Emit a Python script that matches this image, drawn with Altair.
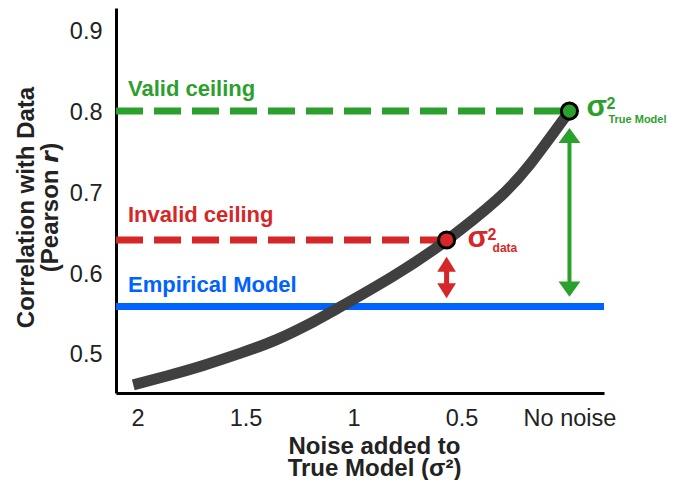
import altair as alt
import pandas as pd

# ---- data ----
curve_noise = [2.02, 1.865, 1.696, 1.526, 1.356, 1.186, 1.078, 0.82, 0.569, 0.337, 0.183, 0.0]
curve_r = [0.463, 0.474, 0.487, 0.502, 0.519, 0.541, 0.557, 0.597, 0.642, 0.692, 0.736, 0.802]

x_ticks = [2, 1.5, 1, 0.5, 0]
y_ticks = [0.5, 0.6, 0.7, 0.8, 0.9]
x_domain = [-0.16, 2.1]
y_domain = [0.4529, 0.9297]

valid_r = 0.802        # ceiling from true model (no noise)
invalid_r = 0.6424     # ceiling from data noise
empirical_r = 0.56     # empirical model
true_noise = 0.0
data_noise = 0.569

red_arrow = [0.6124, 0.5795]     # head centres (top, bottom)
green_arrow = [0.7718, 0.5815]

GREEN = "#2ca02c"
RED = "#d62728"
BLUE = "#0062ff"
GREY = "#404040"
FONT = "Liberation Sans"

xs = alt.Scale(domain=x_domain, reverse=True, nice=False, zero=False)
ys = alt.Scale(domain=y_domain, nice=False, zero=False)

x_axis = alt.Axis(
    values=x_ticks,
    labelExpr="datum.value == 0 ? 'No noise' : '' + datum.value",
    ticks=False, tickSize=0, grid=False,
    domainColor="black", domainWidth=3,
    labelFontSize=23.5, labelFont=FONT, labelColor="#222", labelPadding=13,
    title=["Noise added to", "True Model (σ²)"],
    titleFont=FONT, titleFontSize=24, titleFontWeight="bold", titleColor="#222",
    titleLineHeight=22, titleX=258, titleY=60, titleBaseline="alphabetic",
)
y_axis = alt.Axis(
    values=y_ticks, format=".1f",
    ticks=False, tickSize=0, grid=False,
    domainColor="black", domainWidth=3,
    labelFontSize=23.5, labelFont=FONT, labelColor="#222", labelPadding=14,
    title=["Correlation with Data", "(Pearson 𝙧)"],
    titleFont=FONT, titleFontSize=24, titleFontWeight="bold", titleColor="#222",
    titleLineHeight=24, titleX=-83, titleY=199, titleBaseline="alphabetic", titleAngle=270,
)


def X(field="n"):
    return alt.X(f"{field}:Q", scale=xs, axis=x_axis)


def Y(field="r"):
    return alt.Y(f"{field}:Q", scale=ys, axis=y_axis)


curve_df = pd.DataFrame({"n": curve_noise, "r": curve_r})

blue_df = pd.DataFrame({"n": [x_domain[1]], "n2": [x_domain[0]], "r": [empirical_r]})
green_dash_df = pd.DataFrame({"n": [x_domain[1]], "n2": [true_noise], "r": [valid_r]})
red_dash_df = pd.DataFrame({"n": [x_domain[1]], "n2": [data_noise], "r": [invalid_r]})

blue_line = alt.Chart(blue_df).mark_rule(color=BLUE, strokeWidth=7, strokeCap="butt").encode(
    x=X(), x2="n2:Q", y=Y())
green_dash = alt.Chart(green_dash_df).mark_rule(
    color=GREEN, strokeWidth=7, strokeDash=[27, 11], strokeCap="butt").encode(x=X(), x2="n2:Q", y=Y())
red_dash = alt.Chart(red_dash_df).mark_rule(
    color=RED, strokeWidth=7, strokeDash=[27, 11], strokeCap="butt").encode(x=X(), x2="n2:Q", y=Y())

curve = alt.Chart(curve_df).mark_line(
    color=GREY, strokeWidth=11, interpolate="natural", strokeCap="butt").encode(x=X(), y=Y())

# arrows
red_shaft_df = pd.DataFrame({"n": [data_noise], "r": [red_arrow[0]], "r2": [red_arrow[1]]})
green_shaft_df = pd.DataFrame({"n": [true_noise], "r": [green_arrow[0]], "r2": [green_arrow[1]]})
red_shaft = alt.Chart(red_shaft_df).mark_rule(color=RED, strokeWidth=5).encode(x=X(), y=Y(), y2="r2:Q")
green_shaft = alt.Chart(green_shaft_df).mark_rule(color=GREEN, strokeWidth=4).encode(x=X(), y=Y(), y2="r2:Q")

UP_R = "M0,-0.8L1,0.8L-1,0.8Z"
DN_R = "M0,0.8L1,-0.8L-1,-0.8Z"
UP_G = "M0,-0.69L1,0.69L-1,0.69Z"
DN_G = "M0,0.69L1,-0.69L-1,-0.69Z"

def head(n, r, shape, color, size):
    return alt.Chart(pd.DataFrame({"n": [n], "r": [r]})).mark_point(
        shape=shape, filled=True, color=color, size=size, opacity=1, strokeWidth=0
    ).encode(x=X(), y=Y())

heads = [
    head(data_noise, red_arrow[0], UP_R, RED, 350),
    head(data_noise, red_arrow[1], DN_R, RED, 350),
    head(true_noise, green_arrow[0], UP_G, GREEN, 480),
    head(true_noise, green_arrow[1], DN_G, GREEN, 480),
]

# points
def dot(n, r, color):
    return alt.Chart(pd.DataFrame({"n": [n], "r": [r]})).mark_circle(
        size=260, color=color, opacity=1, stroke="black", strokeWidth=3
    ).encode(x=X(), y=Y())

green_dot = dot(true_noise, valid_r, GREEN)
red_dot = dot(data_noise, invalid_r, RED)

# text annotations
def label(text, n, r, color, size, dx, dy, weight="bold"):
    return alt.Chart(pd.DataFrame({"n": [n], "r": [r], "t": [text]})).mark_text(
        align="left", baseline="alphabetic", font=FONT, fontSize=size, fontWeight=weight,
        color=color, dx=dx, dy=dy
    ).encode(x=X(), y=Y(), text="t:N")

texts = [
    label("Valid ceiling", x_domain[1], valid_r, GREEN, 22, 12, -15),
    label("Invalid ceiling", x_domain[1], invalid_r, RED, 22, 12, -18),
    label("Empirical Model", x_domain[1], empirical_r, BLUE, 22, 12, -15),
    label("σ", data_noise, invalid_r, RED, 30, 21, 7),
    label("2", data_noise, invalid_r, RED, 16, 41, 0),
    label("data", data_noise, invalid_r, RED, 12, 46, 12),
    label("σ", true_noise, valid_r, GREEN, 30, 17, 5),
    label("2", true_noise, valid_r, GREEN, 16, 37, -2),
    label("True Model", true_noise, valid_r, GREEN, 11, 39, 12),
]

chart = alt.layer(
    blue_line, green_dash, red_dash, curve, red_shaft, green_shaft, *heads,
    green_dot, red_dot, *texts
).properties(
    width=488, height=385,
    padding={"left": 108, "top": 0, "right": 63, "bottom": 87},
    autosize=alt.AutoSizeParams(type="none"),
).configure_view(stroke=None)

chart.save("out.html", embed_options={"renderer": "svg", "actions": False})
